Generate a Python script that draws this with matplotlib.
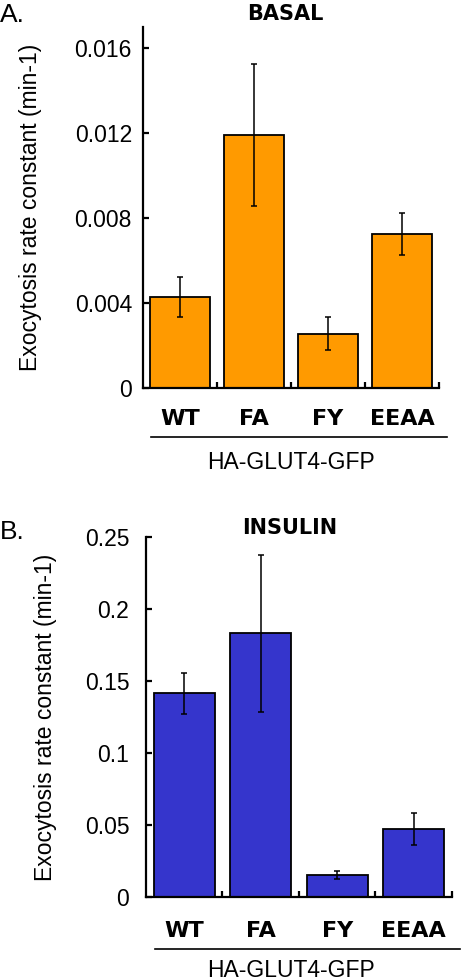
import matplotlib
matplotlib.use('Agg')
import matplotlib.pyplot as plt

plt.rcParams['font.family'] = ['Liberation Sans', 'DejaVu Sans']

# 資料
categories = ['WT', 'FA', 'FY', 'EEAA']
basal_values = [0.00428, 0.01192, 0.00256, 0.00725]
basal_errors = [0.00094, 0.00334, 0.00077, 0.00100]
insulin_values = [0.1415, 0.1831, 0.0153, 0.0470]
insulin_errors = [0.0141, 0.0547, 0.0025, 0.0111]
basal_ticks = [0, 0.004, 0.008, 0.012, 0.016]
basal_ticklabels = ['0', '0.004', '0.008', '0.012', '0.016']
insulin_ticks = [0, 0.05, 0.1, 0.15, 0.2, 0.25]
insulin_ticklabels = ['0', '0.05', '0.1', '0.15', '0.2', '0.25']

ORANGE = '#FF9A00'
BLUE = '#3535CC'
FS = 16.5
BOLD_FONT = ['DejaVu Sans']

fig = plt.figure(figsize=(4.62, 9.8), dpi=100)
ax_a = fig.add_axes([0.3095, 0.604, 0.6405, 0.3684])
ax_b = fig.add_axes([0.316, 0.0847, 0.662, 0.3673])


def draw_panel(ax, values, errors, color, ylim, yticks, yticklabels,
               tick_pad, cat_pad, line_y, line_x, group_y, group_x, ylabel_x):
    x = list(range(1, len(categories) + 1))
    ax.bar(x, values, width=0.8, color=color, edgecolor='black', linewidth=1.3, zorder=2)
    ax.errorbar(x, values, yerr=errors, fmt='none', ecolor='black',
                elinewidth=1.1, capsize=2, capthick=1.1, zorder=3)

    ax.set_xlim(0.5, len(categories) + 0.5)
    ax.set_ylim(*ylim)

    for side in ['top', 'right']:
        ax.spines[side].set_visible(False)
    for side in ['left', 'bottom']:
        ax.spines[side].set_linewidth(1.6)

    ax.set_yticks(yticks)
    ax.set_yticklabels(yticklabels, fontsize=FS)
    ax.tick_params(axis='y', direction='in', length=4, width=1.6, pad=tick_pad)

    # 類別標籤 + 分隔刻度
    ax.set_xticks(x)
    ax.set_xticklabels(categories, fontsize=16, fontweight='bold', family=BOLD_FONT)
    ax.tick_params(axis='x', which='major', length=0, pad=cat_pad)
    ax.set_xticks([i + 0.5 for i in x], minor=True)
    ax.tick_params(axis='x', which='minor', direction='in', length=4, width=1.6)

    ax.set_ylabel('Exocytosis rate constant (min-1)', fontsize=FS)
    ax.yaxis.set_label_coords(ylabel_x, 0.5)

    ax.plot(line_x, [line_y, line_y], color='black', linewidth=1.2,
            transform=ax.transAxes, clip_on=False)
    ax.text(group_x, group_y, 'HA-GLUT4-GFP', fontsize=FS, ha='center', va='center',
            transform=ax.transAxes)


draw_panel(ax_a, basal_values, basal_errors, ORANGE, (0, 0.017),
           basal_ticks, basal_ticklabels, tick_pad=8, cat_pad=15,
           line_y=-0.1357, line_x=[0.027, 1.027], group_y=-0.205, group_x=0.5,
           ylabel_x=-0.341)
draw_panel(ax_b, insulin_values, insulin_errors, BLUE, (0, 0.25),
           insulin_ticks, insulin_ticklabels, tick_pad=12, cat_pad=17,
           line_y=-0.1444, line_x=[0.029, 1.026], group_y=-0.203, group_x=0.474,
           ylabel_x=-0.29)

fig.text(285 / 462, 1 - 14 / 980, 'BASAL', fontsize=15, fontweight='bold',
         family=BOLD_FONT, ha='center', va='center')
fig.text(290 / 462, 1 - 528 / 980, 'INSULIN', fontsize=15, fontweight='bold',
         family=BOLD_FONT, ha='center', va='center')
fig.text(0.0, 1 - 15 / 980, 'A.', fontsize=19, ha='left', va='center')
fig.text(0.0, 1 - 532 / 980, 'B.', fontsize=19, ha='left', va='center')

fig.savefig('out.png', dpi=100)
